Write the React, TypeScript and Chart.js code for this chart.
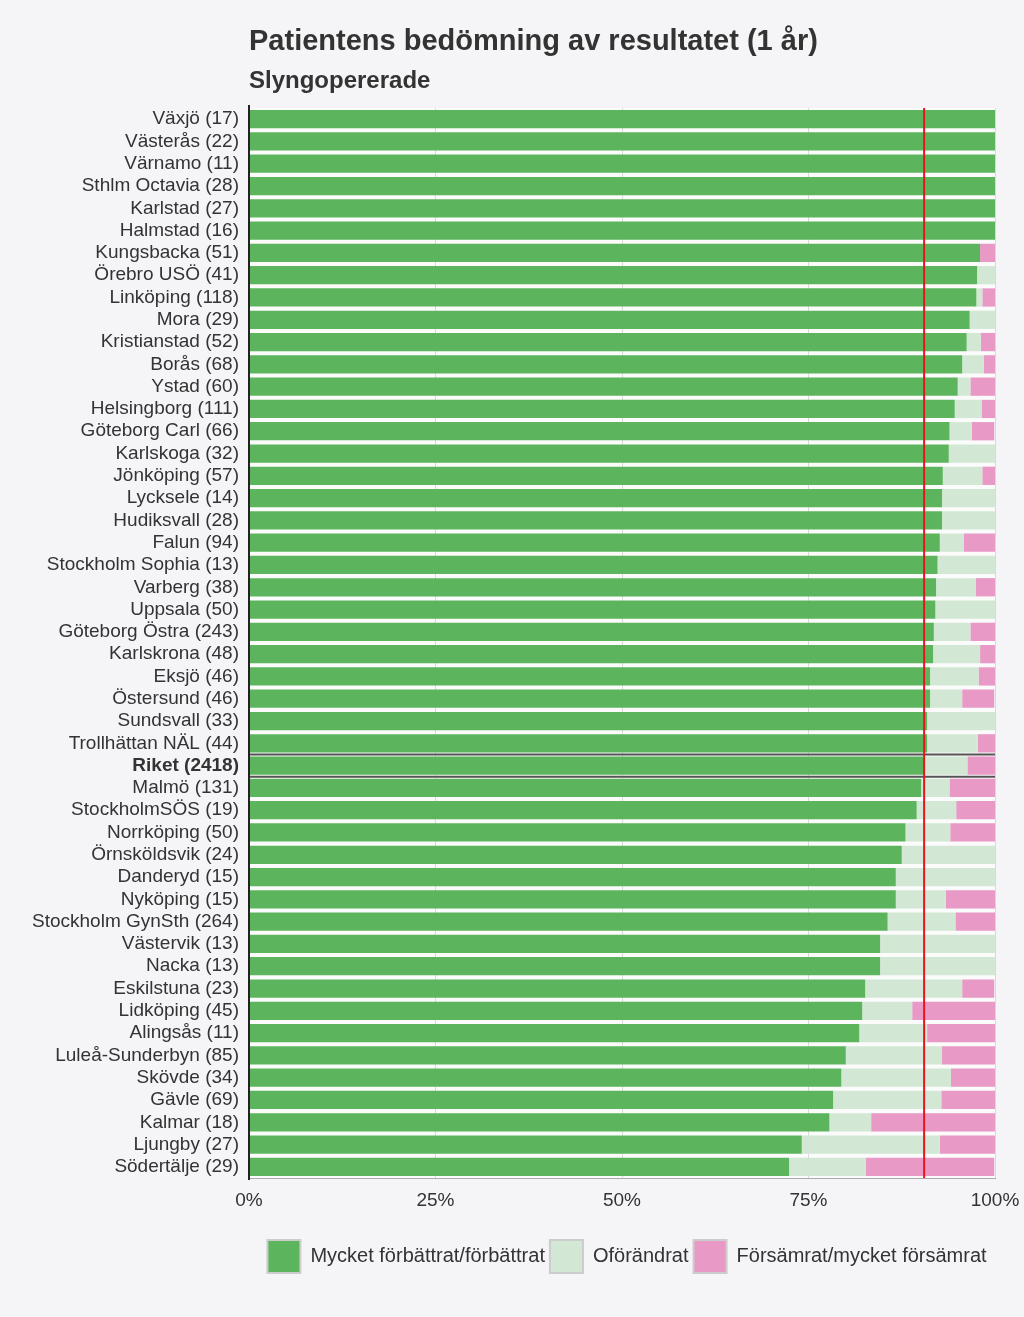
import React, { useEffect, useRef } from "react";
import { Chart, registerables } from "chart.js";

Chart.register(...registerables);

const categories = [
  "Växjö (17)", "Västerås (22)", "Värnamo (11)", "Sthlm Octavia (28)", "Karlstad (27)",
  "Halmstad (16)", "Kungsbacka (51)", "Örebro USÖ (41)", "Linköping (118)", "Mora (29)",
  "Kristianstad (52)", "Borås (68)", "Ystad (60)", "Helsingborg (111)", "Göteborg Carl (66)",
  "Karlskoga (32)", "Jönköping (57)", "Lycksele (14)", "Hudiksvall (28)", "Falun (94)",
  "Stockholm Sophia (13)", "Varberg (38)", "Uppsala (50)", "Göteborg Östra (243)", "Karlskrona (48)",
  "Eksjö (46)", "Östersund (46)", "Sundsvall (33)", "Trollhättan NÄL (44)", "Riket (2418)",
  "Malmö (131)", "StockholmSÖS (19)", "Norrköping (50)", "Örnsköldsvik (24)", "Danderyd (15)",
  "Nyköping (15)", "Stockholm GynSth (264)", "Västervik (13)", "Nacka (13)", "Eskilstuna (23)",
  "Lidköping (45)", "Alingsås (11)", "Luleå-Sunderbyn (85)", "Skövde (34)", "Gävle (69)",
  "Kalmar (18)", "Ljungby (27)", "Södertälje (29)",
];

const improved = [
  100, 100, 100, 100, 100, 100, 98.0, 97.6, 97.5, 96.6,
  96.2, 95.6, 95.0, 94.6, 93.9, 93.8, 93.0, 92.9, 92.9, 92.6,
  92.3, 92.1, 92.0, 91.8, 91.7, 91.3, 91.3, 90.9, 90.9, 90.5,
  90.1, 89.5, 88.0, 87.5, 86.7, 86.7, 85.6, 84.6, 84.6, 82.6,
  82.2, 81.8, 80.0, 79.4, 78.3, 77.8, 74.1, 72.4,
];

const unchanged = [
  0, 0, 0, 0, 0, 0, 0, 2.4, 0.8, 3.4,
  1.9, 2.9, 1.7, 3.6, 3.0, 6.2, 5.3, 7.1, 7.1, 3.2,
  7.7, 5.3, 8.0, 4.9, 6.3, 6.5, 4.3, 9.1, 6.8, 5.8,
  3.8, 5.3, 6.0, 12.5, 13.3, 6.7, 9.1, 15.4, 15.4, 13.0,
  6.7, 9.1, 12.9, 14.7, 14.5, 5.6, 18.5, 10.3,
];

const worsened = [
  0, 0, 0, 0, 0, 0, 2.0, 0, 1.7, 0,
  1.9, 1.5, 3.3, 1.8, 3.0, 0, 1.8, 0, 0, 4.3,
  0, 2.6, 0, 3.3, 2.1, 2.2, 4.3, 0, 2.3, 3.7,
  6.1, 5.3, 6.0, 0, 0, 6.7, 5.3, 0, 0, 4.3,
  11.1, 9.1, 7.1, 5.9, 7.2, 16.7, 7.4, 17.2,
];

const seriesLabels = ["Mycket förbättrat/förbättrat", "Oförändrat", "Försämrat/mycket försämrat"];
const xTicks = [0, 25, 50, 75, 100];
const title = "Patientens bedömning av resultatet (1 år)";
const subtitle = "Slyngopererade";
const rikeIndex = 29;
const rikeValue = improved[rikeIndex];

const FONT = "'Liberation Sans', Arial, sans-serif";

export default function App() {
  const ref = useRef<HTMLCanvasElement>(null);

  useEffect(() => {
    document.body.style.margin = "0";
    document.body.style.background = "#f5f4f7";

    const overlay = {
      id: "overlay",
      beforeDraw(chart: any) {
        const { ctx, chartArea } = chart;
        if (chart.legend) {
          chart.legend.left = chartArea.left + 10;
          chart.legend.right = chartArea.right;
        }
        ctx.save();
        ctx.fillStyle = "#f5f4f7";
        ctx.fillRect(0, 0, chart.width, chart.height);
        ctx.fillStyle = "#fbfbfc";
        ctx.fillRect(chartArea.left, chartArea.top, chartArea.right - chartArea.left, chartArea.bottom - chartArea.top);
        ctx.restore();
      },
      afterDatasetsDraw(chart: any) {
        const { ctx, chartArea, scales } = chart;
        const x = scales.x;
        const y = scales.y;
        ctx.save();
        const yc = y.getPixelForValue(rikeIndex);
        const half = (y.getPixelForValue(1) - y.getPixelForValue(0)) / 2;
        ctx.strokeStyle = "#555555";
        ctx.lineWidth = 2;
        [yc - half, yc + half].forEach((yy) => {
          ctx.beginPath();
          ctx.moveTo(chartArea.left, yy);
          ctx.lineTo(chartArea.right, yy);
          ctx.stroke();
        });
        const xr = x.getPixelForValue(rikeValue);
        ctx.strokeStyle = "#e8141c";
        ctx.lineWidth = 2;
        ctx.beginPath();
        ctx.moveTo(xr, chartArea.top);
        ctx.lineTo(xr, chartArea.bottom);
        ctx.stroke();
        ctx.strokeStyle = "#222222";
        ctx.lineWidth = 2;
        ctx.beginPath();
        ctx.moveTo(chartArea.left, chartArea.top - 3);
        ctx.lineTo(chartArea.left, chartArea.bottom + 2);
        ctx.stroke();
        ctx.fillStyle = "#333333";
        ctx.textAlign = "left";
        ctx.textBaseline = "middle";
        ctx.font = `bold 29px ${FONT}`;
        ctx.fillText(title, chartArea.left, 42);
        ctx.font = `bold 24px ${FONT}`;
        ctx.fillText(subtitle, chartArea.left, 81);
        ctx.restore();
      },
    };

    const chart = new Chart(ref.current as HTMLCanvasElement, {
      type: "bar",
      data: {
        labels: categories,
        datasets: [
          { label: seriesLabels[0], data: improved, backgroundColor: "#5cb55c" },
          { label: seriesLabels[1], data: unchanged, backgroundColor: "#d2e8d4" },
          { label: seriesLabels[2], data: worsened, backgroundColor: "#e899c6" },
        ].map((d) => ({ ...d, borderWidth: 0, barPercentage: 0.82, categoryPercentage: 1 })),
      },
      options: {
        indexAxis: "y",
        animation: false,
        responsive: false,
        layout: { padding: { top: 108, right: 29, bottom: 34, left: 0 } },
        scales: {
          x: {
            stacked: true,
            min: 0,
            max: 100,
            afterBuildTicks(scale: any) {
              scale.ticks = xTicks.map((v) => ({ value: v }));
            },
            afterFit(scale: any) {
              scale.height = 57;
              scale.paddingLeft = 0;
              scale.paddingRight = 0;
            },
            border: { display: true, color: "#aaaaaa", width: 1 },
            grid: { color: "#d9d9d9", drawTicks: false, lineWidth: 1 },
            ticks: {
              padding: 11,
              color: "#333333",
              font: { family: FONT, size: 19 },
              callback: (v: any) => `${v}%`,
            },
          },
          y: {
            stacked: true,
            afterFit(scale: any) {
              scale.width = 249;
            },
            border: { display: false },
            grid: { display: false, drawTicks: false },
            ticks: {
              padding: 10,
              autoSkip: false,
              color: "#333333",
              font: (c: any) => ({ family: FONT, size: 19, weight: c.index === rikeIndex ? "bold" : "normal" }),
            },
          },
        },
        plugins: {
          legend: {
            position: "bottom",
            labels: {
              boxWidth: 33,
              boxHeight: 33,
              padding: 5,
              color: "#333333",
              font: { family: FONT, size: 20 },
              generateLabels(chart: any) {
                return chart.data.datasets.map((d: any, i: number) => ({
                  text: d.label,
                  fillStyle: d.backgroundColor,
                  strokeStyle: "#cccccc",
                  lineWidth: 2,
                  hidden: false,
                  datasetIndex: i,
                  fontColor: "#333333",
                }));
              },
            },
          },
          tooltip: { enabled: false },
        },
      },
      plugins: [overlay],
    } as any);

    return () => chart.destroy();
  }, []);

  return <canvas ref={ref} width={1024} height={1317} style={{ display: "block" }} />;
}
